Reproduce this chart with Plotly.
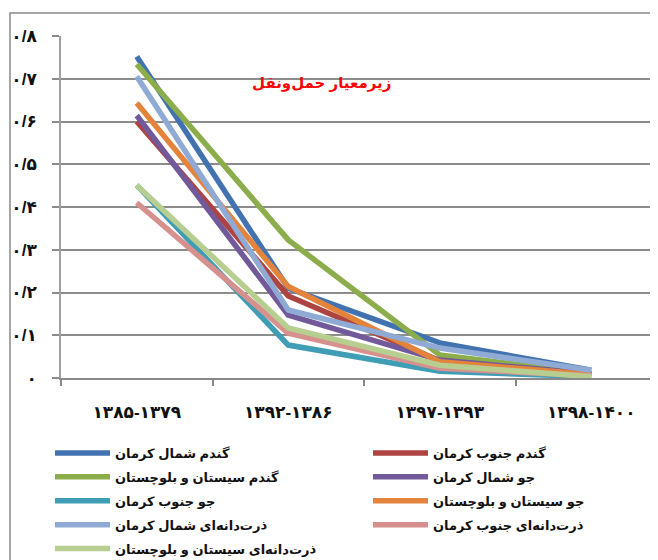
import plotly.graph_objects as go

# ---- data ----
categories = ["۱۳۸۵-۱۳۷۹", "۱۳۹۲-۱۳۸۶", "۱۳۹۷-۱۳۹۳", "۱۳۹۸-۱۴۰۰"]

wheat_north_kerman = [0.752, 0.210, 0.082, 0.018]
wheat_south_kerman = [0.600, 0.192, 0.040, 0.010]
wheat_sistan = [0.734, 0.323, 0.054, 0.010]
barley_north_kerman = [0.614, 0.147, 0.042, 0.010]
barley_south_kerman = [0.451, 0.077, 0.016, 0.003]
barley_sistan = [0.643, 0.214, 0.038, 0.008]
corn_north_kerman = [0.705, 0.159, 0.070, 0.018]
corn_south_kerman = [0.410, 0.105, 0.023, 0.005]
corn_sistan = [0.451, 0.117, 0.030, 0.003]

series_names = [
    "گندم شمال کرمان",
    "گندم جنوب کرمان",
    "گندم سیستان و بلوچستان",
    "جو شمال کرمان",
    "جو جنوب کرمان",
    "جو سیستان و بلوچستان",
    "ذرت‌دانه‌ای شمال کرمان",
    "ذرت‌دانه‌ای جنوب کرمان",
    "ذرت‌دانه‌ای سیستان و بلوچستان",
]
series_values = [
    wheat_north_kerman, wheat_south_kerman, wheat_sistan,
    barley_north_kerman, barley_south_kerman, barley_sistan,
    corn_north_kerman, corn_south_kerman, corn_sistan,
]
series_colors = ["#4273B0", "#AE4441", "#8CAD4C", "#71599A", "#3F9DB5",
                 "#E4843C", "#8FAAD4", "#D6908E", "#B7CE90"]

y_tickvals = [0, 0.1, 0.2, 0.3, 0.4, 0.5, 0.6, 0.7, 0.8]
y_ticktext = ["۰", "۰/۱", "۰/۲", "۰/۳", "۰/۴", "۰/۵", "۰/۶", "۰/۷", "۰/۸"]

title_text = "زیرمعیار حمل‌ونقل"

# ---- figure ----
# The page body has an 8px margin, so figure coords = screen coords - 8.
OFF = 8
W, H = 658 - OFF, 560 - OFF
L = 61 - OFF
T = 36 - OFF
B = H - (378 - OFF)
R = 0
plot_w = W - L - R
plot_h = H - T - B
cat_w = 151.5
x_max = -0.5 + plot_w / cat_w

def px2px(xs):
    return (xs - OFF - L) / plot_w

def py2py(ys):
    return (H - B - (ys - OFF)) / plot_h

fig = go.Figure()
for i, (name, vals, col) in enumerate(zip(series_names, series_values, series_colors)):
    fig.add_trace(go.Scatter(
        x=categories, y=vals, name=name, mode="lines",
        line=dict(color=col, width=5.5),
        legend="legend" if i % 2 == 0 else "legend2",
        legendgroup=f"g{i}",
    ))

font_fam = "Arial, DejaVu Sans, sans-serif"
leg_font = dict(family=font_fam, size=13, color="#111111", weight="bold")

fig.update_layout(
    width=W, height=H,
    margin=dict(l=L, r=R, t=T, b=B, pad=0, autoexpand=False),
    plot_bgcolor="white", paper_bgcolor="white",
    showlegend=True,
    legend=dict(
        orientation="v",
        x=px2px(50), y=py2py(438), xanchor="left", yanchor="top",
        font=leg_font, traceorder="grouped", bgcolor="rgba(0,0,0,0)",
        itemwidth=55, tracegroupgap=4,
    ),
    legend2=dict(
        orientation="v",
        x=px2px(368), y=py2py(438), xanchor="left", yanchor="top",
        font=leg_font, traceorder="grouped", bgcolor="rgba(0,0,0,0)",
        itemwidth=55, tracegroupgap=4,
    ),
    xaxis=dict(
        type="category",
        range=[-0.5, x_max],
        showgrid=False,
        showline=True, linecolor="#888888", linewidth=2,
        ticks="outside", tickson="boundaries", ticklen=6, tickcolor="#888888", tickwidth=1.5,
        tickfont=dict(family=font_fam, size=17, color="#111111", weight="bold"),
        ticklabelstandoff=18,
        zeroline=False,
    ),
    yaxis=dict(
        range=[0, 0.8],
        tickvals=y_tickvals, ticktext=y_ticktext,
        showgrid=True, gridcolor="#8C8C8C", gridwidth=2,
        showline=True, linecolor="#A0A0A0", linewidth=1.5,
        ticks="outside", ticklen=7, tickcolor="#8C8C8C", tickwidth=2,
        tickfont=dict(family=font_fam, size=17, color="#111111", weight="bold"),
        ticklabelstandoff=12,
        zeroline=False,
    ),
)

fig.add_annotation(
    x=px2px(321), y=py2py(72), xref="paper", yref="paper",
    text=title_text, showarrow=False,
    font=dict(family=font_fam, size=15, color="#FF0000", weight="bold"),
)

# outer chart border (left and top edges)
fig.add_shape(type="path", xref="paper", yref="paper",
              path=f"M {px2px(10)} {py2py(570)} L {px2px(10)} {py2py(13)} L {px2px(700)} {py2py(13)}",
              line=dict(color="#8A8A8A", width=1.5))

fig.write_html("out.html")
